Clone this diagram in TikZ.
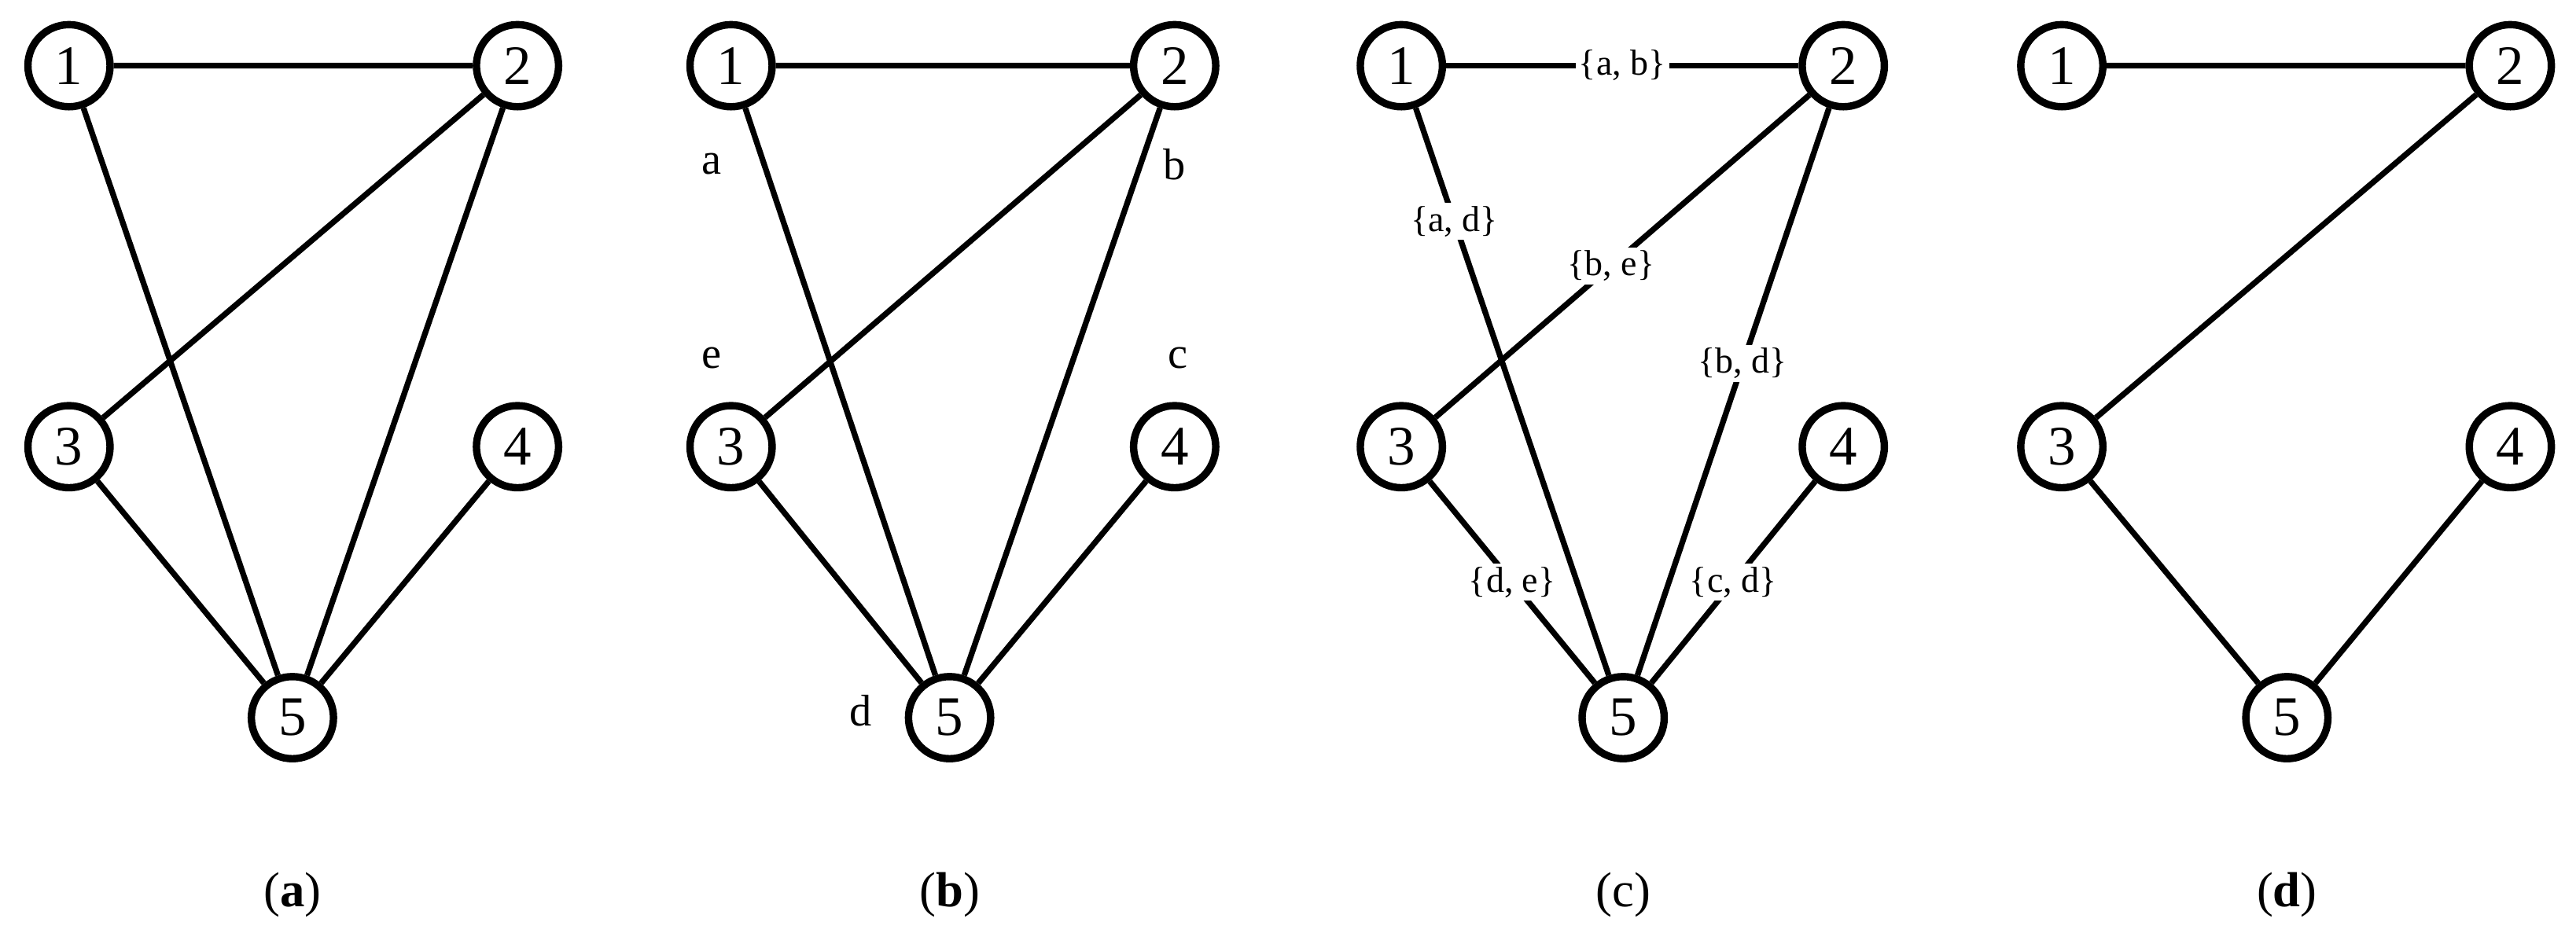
\documentclass[tikz,border=0pt]{standalone}
\usepackage{fontspec}
\setmainfont{Liberation Serif}
\begin{document}
\begin{tikzpicture}[x=1pt,y=-1pt,
  v/.style={circle,draw,line width=4.5pt,minimum size=50pt,inner sep=0pt,font=\fontsize{34}{36}\selectfont,fill=white},
  e/.style={line width=3.5pt},
  lab/.style={font=\fontsize{27}{29}\selectfont},
  el/.style={font=\fontsize{22}{24}\selectfont,fill=white,inner sep=2pt},
  captxt/.style={font=\fontsize{30}{32}\selectfont}]
\useasboundingbox (0,0) rectangle (1568,568);
% (a)
\node[v] (a1) at (42,40) {1}; \node[v] (a2) at (315,40) {2};
\node[v] (a3) at (42,272) {3}; \node[v] (a4) at (315,272) {4};
\node[v] (a5) at (178,437) {5};
\draw[e] (a1)--(a2) (a1)--(a5) (a2)--(a3) (a2)--(a5) (a3)--(a5) (a4)--(a5);
\node[captxt] (ca) at (178,545) {(\textbf{a})};
% (b)
\node[v] (b1) at (445,40) {1}; \node[v] (b2) at (715,40) {2};
\node[v] (b3) at (445,272) {3}; \node[v] (b4) at (715,272) {4};
\node[v] (b5) at (578,437) {5};
\draw[e] (b1)--(b2) (b1)--(b5) (b2)--(b3) (b2)--(b5) (b3)--(b5) (b4)--(b5);
\node[lab] (la) at (433,100) {a};
\node[lab] (lb) at (715,100) {b};
\node[lab] (le) at (433,218) {e};
\node[lab] (lc) at (717,218) {c};
\node[lab] (ld) at (524,433) {d};
\node[captxt] (cb) at (578,545) {(\textbf{b})};
% (c)
\node[v] (c1) at (853,40) {1}; \node[v] (c2) at (1122,40) {2};
\node[v] (c3) at (853,272) {3}; \node[v] (c4) at (1122,272) {4};
\node[v] (c5) at (988,437) {5};
\draw[e] (c1)--(c2) node[el,pos=0.5] {\{a, b\}};
\draw[e] (c1)--(c5) node[el,pos=0.2] {\{a, d\}};
\draw[e] (c2)--(c3) node[el,pos=0.53] {\{b, e\}};
\draw[e] (c2)--(c5) node[el,pos=0.45] {\{b, d\}};
\draw[e] (c3)--(c5) node[el,pos=0.5] {\{d, e\}};
\draw[e] (c4)--(c5) node[el,pos=0.5] {\{c, d\}};
\node[captxt] (cc) at (988,545) {(c)};
% (d)
\node[v] (d1) at (1255,40) {1}; \node[v] (d2) at (1528,40) {2};
\node[v] (d3) at (1255,272) {3}; \node[v] (d4) at (1528,272) {4};
\node[v] (d5) at (1392,437) {5};
\draw[e] (d1)--(d2) (d2)--(d3) (d3)--(d5) (d4)--(d5);
\node[captxt] (cd) at (1392,545) {(\textbf{d})};
\end{tikzpicture}
\end{document}
